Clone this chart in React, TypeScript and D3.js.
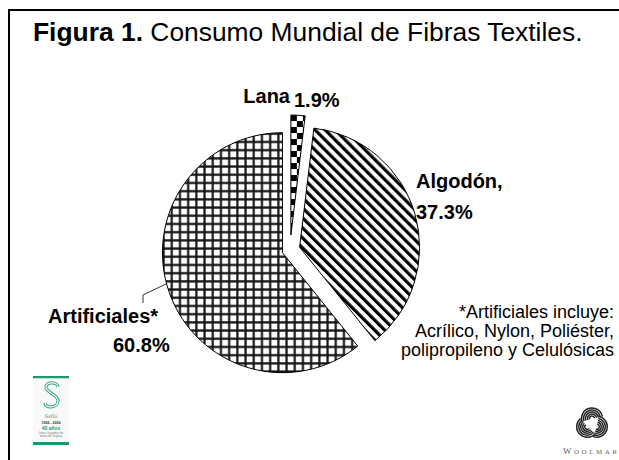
import React from 'react';
import * as d3 from 'd3';

// chart data
const categories = ['Lana', 'Algodón', 'Artificiales'];
const shares = [1.9, 37.3, 60.8];
const nameLabels = ['Lana', 'Algodón,', 'Artificiales*'];
const valueLabels = ['1.9%', '37.3%', '60.8%'];
const footnoteLines = [
  '*Artificiales incluye:',
  'Acrílico, Nylon, Poliéster,',
  'polipropileno y Celulósicas',
];

const W = 619;
const H = 460;
const cx = 290;
const cy = 250;
const radius = 120;
const font = "'Liberation Sans', Arial, sans-serif";

// how far each slice is pulled out of the pie
const explode: Record<string, number> = { Lana: 15, 'Algodón': 10, Artificiales: 8 };
const fills: Record<string, string> = {
  Lana: 'url(#checker)',
  'Algodón': 'url(#stripes)',
  Artificiales: 'url(#grid)',
};

// label placement (name line / value line)
const labelLayout: Record<string, { name: [number, number, string]; value: [number, number, string] }> = {
  Lana: { name: [290, 103, 'end'], value: [294, 107, 'start'] },
  'Algodón': { name: [416, 188, 'start'], value: [416, 219, 'start'] },
  Artificiales: { name: [48, 323, 'start'], value: [113, 352, 'start'] },
};
const leaderAngle = (255 * Math.PI) / 180;
const leaderBend: [number, number][] = [[143, 295], [143, 303]];

function SelloLogo() {
  const s = 'M25 11 C25 6, 13 5, 13 11 C13 17, 25 18, 25 25 C25 32, 12 33, 12 27';
  return (
    <g transform="translate(33,376)">
      <rect x={0} y={0} width={36} height={2.5} fill="#1a9670" />
      <rect x={0} y={2.5} width={36} height={65} fill="#f7faf9" />
      <path d={s} fill="none" stroke="#3aa58a" strokeWidth={3.2} />
      <path d={s} fill="none" stroke="#f7faf9" strokeWidth={1.2} />
      <text x={18} y={42} fontSize={5} fontStyle="italic" fill="#777" textAnchor="middle" fontFamily="'DejaVu Serif', serif">
        Sello
      </text>
      <text x={18} y={48} fontSize={3.6} fill="#333" textAnchor="middle" fontFamily={font} fontWeight="bold">
        1966 - 2006
      </text>
      <text x={18} y={53.5} fontSize={5} fill="#2a9a6a" textAnchor="middle" fontFamily={font} fontWeight="bold">
        40 años
      </text>
      <text x={18} y={57.5} fontSize={2.6} fill="#777" textAnchor="middle" fontFamily={font}>
        Junto a la producción
      </text>
      <text x={18} y={60.5} fontSize={2.6} fill="#777" textAnchor="middle" fontFamily={font}>
        lanera del Uruguay
      </text>
      <rect x={0} y={66} width={36} height={3} fill="#1a9670" />
    </g>
  );
}

function WoolmarkLogo() {
  const rings = [2.5, 4.5, 6.5, 8.5, 10.5];
  return (
    <g>
      <g transform="translate(592,424)">
        {[0, 120, 240].map(rot => (
          <g key={rot} transform={`rotate(${rot})`}>
            {rings.map(r => (
              <path
                key={r}
                d={d3.arc()({ innerRadius: r, outerRadius: r, startAngle: -1.9, endAngle: 1.4 }) || ''}
                transform="translate(0,-5.5)"
                fill="none"
                stroke="#222"
                strokeWidth={1.5}
              />
            ))}
          </g>
        ))}
      </g>
      <text x={563} y={454} fontFamily="'Liberation Serif', 'DejaVu Serif', serif" fill="#666" textLength={54} lengthAdjust="spacing">
        <tspan fontSize={9}>W</tspan>
        <tspan fontSize={7}>OOLMAR</tspan>
      </text>
    </g>
  );
}

export default function App() {
  const pie = d3.pie<number>().sort(null).value(d => d);
  const slices = pie(shares);
  const arc = d3.arc<d3.PieArcDatum<number>>().innerRadius(0).outerRadius(radius);

  const offsetOf = (s: d3.PieArcDatum<number>, i: number) => {
    const mid = (s.startAngle + s.endAngle) / 2;
    const e = explode[categories[i]];
    return [cx + Math.sin(mid) * e, cy - Math.cos(mid) * e];
  };

  const artIdx = categories.indexOf('Artificiales');
  const [ax, ay] = offsetOf(slices[artIdx], artIdx);
  const leaderStart: [number, number] = [ax + Math.sin(leaderAngle) * radius, ay - Math.cos(leaderAngle) * radius];
  const leaderPath = d3.line()([leaderStart, ...leaderBend]) || '';

  return (
    <svg width={W} height={H} style={{ position: 'absolute', left: 0, top: 0, background: '#fff' }}>
      <defs>
        <pattern id="grid" width={8.2} height={8.2} patternUnits="userSpaceOnUse">
          <rect width={8.2} height={8.2} fill="#fff" />
          <path d="M0 4.1H8.2M4.1 0V8.2" stroke="#151515" strokeWidth={2.2} />
        </pattern>
        <pattern id="stripes" width={7.1} height={7.1} patternUnits="userSpaceOnUse" patternTransform="rotate(-45)">
          <rect width={7.1} height={7.1} fill="#fff" />
          <rect x={0} width={3.2} height={7.1} fill="#000" />
        </pattern>
        <pattern id="checker" width={12} height={12} patternUnits="userSpaceOnUse">
          <rect width={12} height={12} fill="#fff" />
          <rect x={0} y={0} width={6} height={6} fill="#000" />
          <rect x={6} y={6} width={6} height={6} fill="#000" />
        </pattern>
      </defs>

      <rect x={9} y={10} width={700} height={600} fill="none" stroke="#000" strokeWidth={2} />

      <text x={33} y={41} fontFamily={font} fontSize={26.4} fill="#000">
        <tspan fontWeight="bold">Figura 1.</tspan>
        <tspan> Consumo Mundial de Fibras Textiles.</tspan>
      </text>

      {slices.map((s, i) => {
        const [ox, oy] = offsetOf(s, i);
        return (
          <path
            key={categories[i]}
            transform={`translate(${ox},${oy})`}
            d={arc(s) || ''}
            fill={fills[categories[i]]}
            stroke="#000"
            strokeWidth={1}
          />
        );
      })}

      <path d={leaderPath} fill="none" stroke="#000" strokeWidth={0.8} />

      {categories.map((c, i) => {
        const l = labelLayout[c];
        return (
          <g key={c} fontFamily={font} fontWeight="bold" fontSize={20} fill="#000">
            <text x={l.name[0]} y={l.name[1]} textAnchor={l.name[2]}>{nameLabels[i]}</text>
            <text x={l.value[0]} y={l.value[1]} textAnchor={l.value[2]}>{valueLabels[i]}</text>
          </g>
        );
      })}

      <g fontFamily={font} fontSize={18} fill="#000" textAnchor="end">
        {footnoteLines.map((t, i) => (
          <text key={i} x={614} y={318 + i * 19}>{t}</text>
        ))}
      </g>

      <SelloLogo />
      <WoolmarkLogo />
    </svg>
  );
}
